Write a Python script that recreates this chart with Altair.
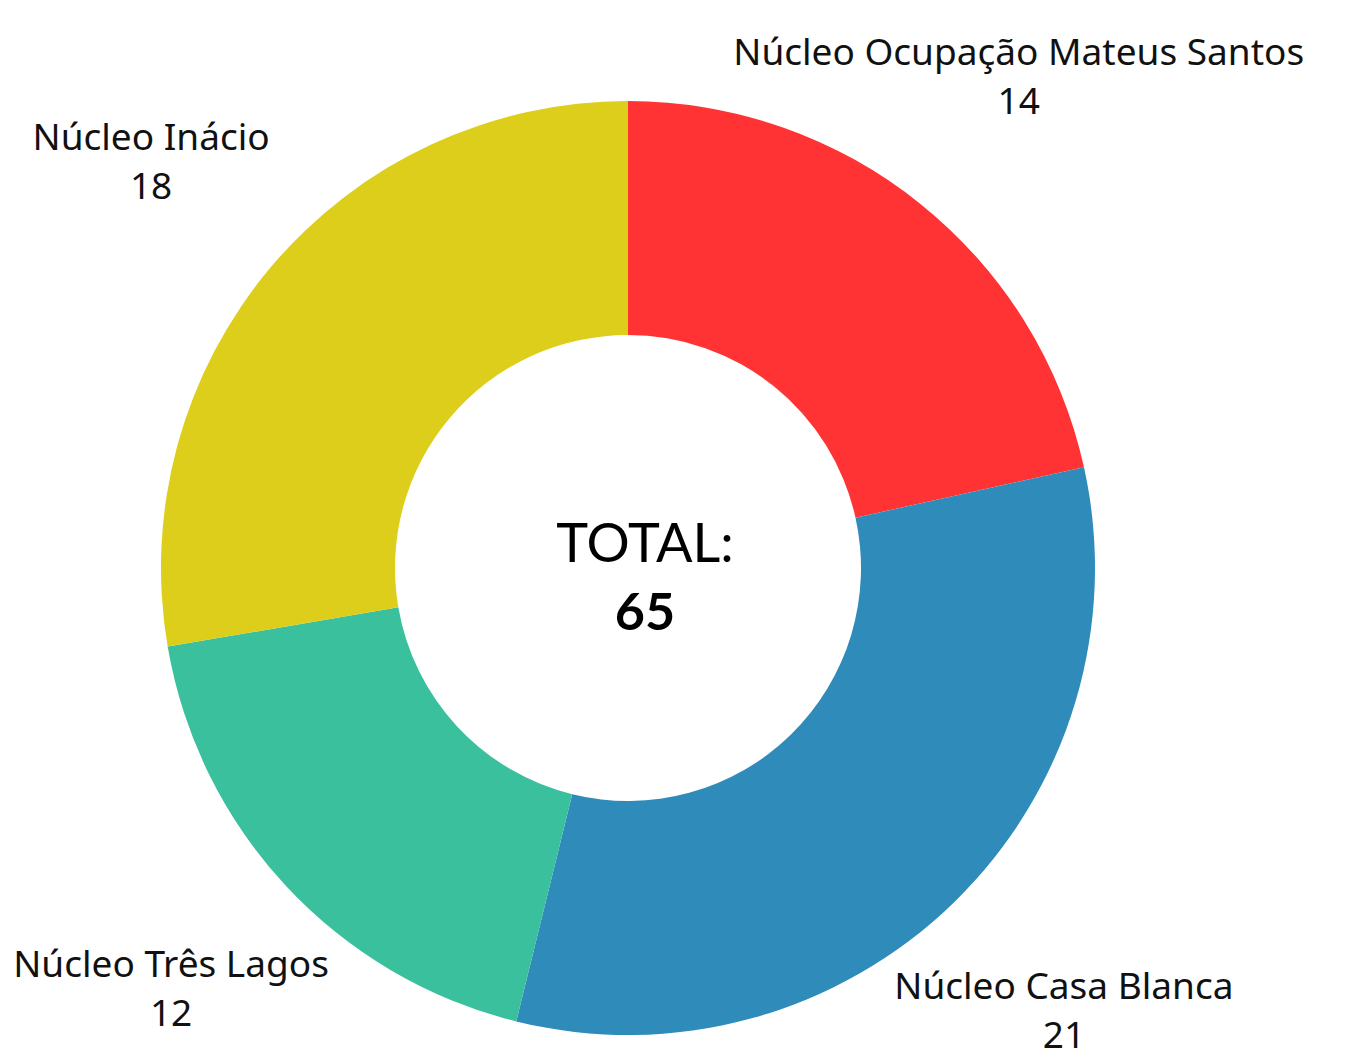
import altair as alt
import pandas as pd

categories = ["Núcleo Ocupação Mateus Santos", "Núcleo Casa Blanca", "Núcleo Três Lagos", "Núcleo Inácio"]
values = [14, 21, 12, 18]
colors = ["#FF3333", "#2E8BBA", "#3BC09E", "#DCCE1A"]
total = sum(values)

df = pd.DataFrame({"cat": categories, "val": values, "order": list(range(len(values)))})

CX, CY = 620, 560
base = alt.Chart(df).encode(
    theta=alt.Theta("val:Q", stack=True),
    order=alt.Order("order:Q"),
)

arcs = base.mark_arc(outerRadius=467, innerRadius=233, stroke=None).encode(
    color=alt.Color("cat:N", scale=alt.Scale(domain=categories, range=colors), legend=None),
    x=alt.value(CX), y=alt.value(CY),
)

FONT = "Noto Sans"
names = base.mark_text(radius=624, dy=-27, font=FONT, fontSize=37, color="#111111",
                       align="center", baseline="middle").encode(
    text="cat:N", x=alt.value(CX), y=alt.value(CY))
nums = base.mark_text(radius=624, dy=22, font=FONT, fontSize=37, color="#111111",
                      align="center", baseline="middle").encode(
    text="val:Q", x=alt.value(CX), y=alt.value(CY))

center_df = pd.DataFrame({"t": ["TOTAL:"], "n": [str(total)]})
ctitle = alt.Chart(center_df).mark_text(font="Lato", fontSize=54, fontWeight="normal",
                                        color="#000000", align="center", baseline="middle",
                                        dx=17, dy=-22).encode(
    text="t:N", x=alt.value(CX), y=alt.value(CY))
cnum = alt.Chart(center_df).mark_text(font="Lato", fontSize=52, fontWeight="bold",
                                      color="#000000", align="center", baseline="middle",
                                      dx=17, dy=46).encode(
    text="n:N", x=alt.value(CX), y=alt.value(CY))

chart = alt.layer(arcs, names, nums, ctitle, cnum).properties(
    width=1334, height=1051,
    autosize=alt.AutoSizeParams(type="none"),
    padding=0,
).configure_view(stroke=None)

chart.save("out.html", embed_options={"renderer": "svg", "actions": False})
